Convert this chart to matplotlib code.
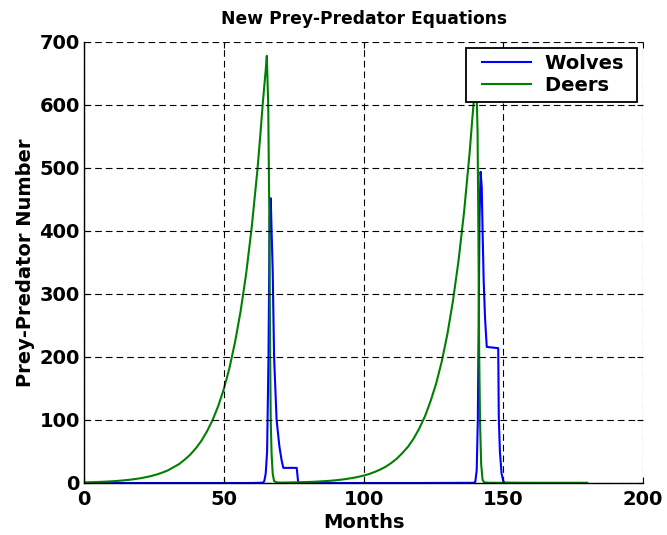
import matplotlib
matplotlib.use("Agg")
import matplotlib.pyplot as plt
from matplotlib.lines import Line2D
from matplotlib.legend_handler import HandlerLine2D

# Deer population (months, head count)
deer_months = [0, 2, 4, 6, 8, 10, 12, 14, 16, 18, 20, 22, 24, 26, 28, 30, 32, 34,
               36, 38, 40, 42, 44, 46, 48, 50, 52, 54, 56, 58, 60, 62, 63, 64, 65,
               65.4, 65.9, 66.3, 66.6, 66.8, 67.1, 67.5, 68, 69, 70, 72, 74, 76,
               78, 80, 82, 84, 86, 88, 90, 92, 94, 96, 98, 100, 102, 104, 106,
               108, 110, 112, 114, 116, 118, 120, 122, 124, 126, 128, 130, 132,
               134, 136, 138, 139, 140.3, 140.8, 141.1, 141.4, 141.7, 142.1,
               142.6, 143.2, 145, 150, 160, 170, 180]
deer_count = [1.0, 1.2, 1.5, 1.8, 2.2, 2.7, 3.3, 4.1, 5.0, 6.1, 7.4, 9.1, 11, 13.5,
              16.5, 20, 25, 30, 37, 45, 55, 67, 82, 100, 122, 149, 182, 223, 272,
              332, 406, 495, 548, 605, 655, 678, 600, 420, 200, 100, 47, 15, 3,
              1.0, 0.6, 0.7, 0.9, 1.1, 1.3, 1.6, 1.9, 2.4, 2.9, 3.5, 4.3, 5.3,
              6.5, 7.9, 9.6, 11.7, 14.3, 17.5, 21.4, 26, 32, 39, 48, 58, 71, 87,
              106, 130, 158, 193, 236, 289, 353, 431, 526, 582, 650, 560, 400,
              200, 95, 30, 5, 1.0, 0.4, 0.3, 0.3, 0.3, 0.3]

# Wolf population (months, head count)
wolf_months = [0, 20, 40, 60, 64, 64.5, 65, 65.5, 66, 66.4, 66.8, 67.1, 67.5, 68,
               68.9, 69.9, 70.7, 71.3, 76.1, 76.6, 77, 100, 120, 139.5, 140,
               140.5, 140.9, 141.2, 141.5, 141.9, 142.3, 142.6, 143.0, 143.5,
               144.1, 148.2, 148.4, 148.8, 149.4, 150.0, 150.6, 160, 170, 180]
wolf_count = [0, 0, 0, 0, 0.5, 3, 15, 50, 200, 420, 452, 401, 338, 200, 100, 58,
              36, 24, 24, 2, 0, 0, 0, 0.3, 2, 20, 100, 250, 420, 494, 470, 400,
              320, 260, 216, 214, 105, 50, 15, 3, 0.3, 0, 0, 0]

x_ticks = [0, 50, 100, 150, 200]
y_ticks = [0, 100, 200, 300, 400, 500, 600, 700]

plt.rcParams["font.family"] = ["DejaVu Sans"]
plt.rcParams["font.weight"] = "bold"

fig = plt.figure(figsize=(6.67, 5.35), dpi=100)
ax = fig.add_axes([0.126, 0.0972, 0.838, 0.8243])

ax.plot(wolf_months, wolf_count, color="#0000ff", lw=1.5, label="Wolves ")
ax.plot(deer_months, deer_count, color="#008000", lw=1.5, label="Deers ")

ax.set_xlim(0, 200)
ax.set_ylim(0, 700)
ax.set_xticks(x_ticks)
ax.set_yticks(y_ticks)
ax.tick_params(direction="in", top=True, right=True, length=4, labelsize=14)
ax.tick_params(axis="x", pad=5)
ax.tick_params(axis="y", pad=3)
for lab in ax.get_xticklabels() + ax.get_yticklabels():
    lab.set_fontweight("bold")

ax.grid(True, color="k", lw=0.8, linestyle=(0, (6, 3.6)))
ax.set_axisbelow(False)
for side in ("top", "right"):
    ax.spines[side].set_visible(False)
for side in ("left", "bottom"):
    ax.spines[side].set_color("k")
    ax.spines[side].set_linewidth(1.0)

ax.set_title("New Prey-Predator Equations", fontsize=12.3, fontweight="bold",
             pad=13)
ax.set_xlabel("Months", fontsize=14, fontweight="bold", labelpad=3)
ax.set_ylabel("Prey-Predator Number", fontsize=14, fontweight="bold",
              labelpad=3)

# legend handles inset from the frame edge
leg = ax.legend(loc="upper right", handlelength=2.98, handletextpad=0.77,
                labelspacing=0.15, borderpad=0.33, fancybox=False,
                framealpha=1, edgecolor="k", borderaxespad=0.3,
                prop={"weight": "bold", "size": 14},
                handler_map={Line2D: HandlerLine2D(xpad=0.46)})
leg.get_frame().set_linewidth(1.3)

fig.savefig("out.png", dpi=100)
